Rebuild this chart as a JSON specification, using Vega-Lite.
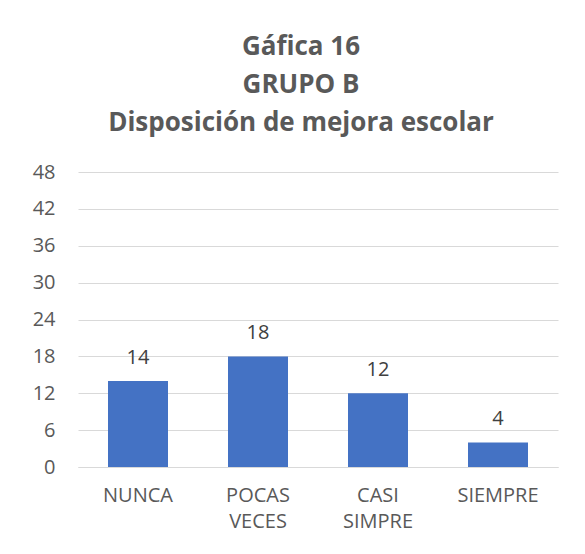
{
  "$schema": "https://vega.github.io/schema/vega-lite/v6.json",
  "width": 480,
  "height": 295,
  "autosize": {"type": "none"},
  "padding": {"left": 78, "top": 172, "right": 27, "bottom": 87},
  "background": "white",
  "title": {
    "text": ["Gáfica 16", "GRUPO B", "Disposición de mejora escolar"],
    "font": "Open Sans",
    "fontSize": 26,
    "fontWeight": "bold",
    "color": "#595959",
    "lineHeight": 38,
    "anchor": "middle",
    "frame": "group",
    "dx": -17,
    "offset": 26
  },
  "data": {
    "values": [
      {"cat": "NUNCA", "value": 14},
      {"cat": "POCAS VECES", "value": 18},
      {"cat": "CASI SIMPRE", "value": 12},
      {"cat": "SIEMPRE", "value": 4}
    ]
  },
  "encoding": {
    "x": {
      "field": "cat",
      "type": "nominal",
      "sort": null,
      "scale": {"paddingInner": 0.5, "paddingOuter": 0.25},
      "axis": {
        "title": null,
        "labelAngle": 0,
        "labelExpr": "split(datum.label, ' ')",
        "labelFont": "Open Sans",
        "labelFontSize": 20,
        "labelColor": "#595959",
        "labelLineHeight": 26,
        "labelPadding": 18,
        "labelBaseline": "top",
        "ticks": false,
        "domainColor": "#D9D9D9",
        "domainWidth": 1,
        "grid": false
      }
    },
    "y": {
      "field": "value",
      "type": "quantitative",
      "scale": {"domain": [0, 48], "nice": false},
      "axis": {
        "title": null,
        "values": [0, 6, 12, 18, 24, 30, 36, 42, 48],
        "labelFont": "Open Sans",
        "labelFontSize": 20,
        "labelColor": "#595959",
        "labelPadding": 23,
        "ticks": false,
        "domain": false,
        "gridColor": "#D9D9D9",
        "gridWidth": 1
      }
    }
  },
  "layer": [
    {"mark": {"type": "bar", "color": "#4472C4"}},
    {
      "mark": {
        "type": "text",
        "font": "Open Sans",
        "fontSize": 20,
        "color": "#404040",
        "baseline": "alphabetic",
        "dy": -17
      },
      "encoding": {"text": {"field": "value", "type": "quantitative"}}
    }
  ],
  "config": {"view": {"stroke": null}}
}
